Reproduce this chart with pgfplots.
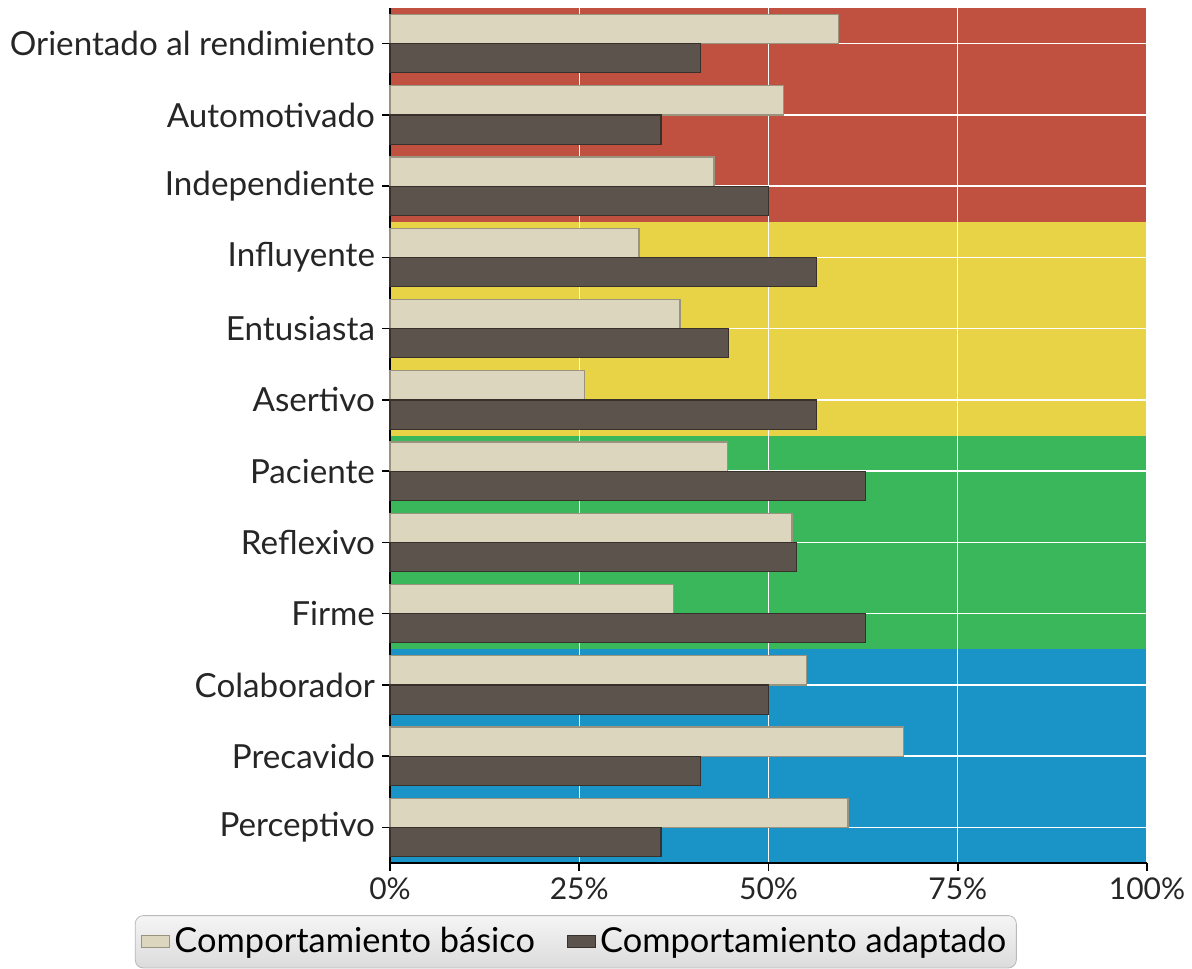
\documentclass[border=0pt]{standalone}
\usepackage{fontspec}
\setmainfont{Lato}
\usepackage{pgfplots}
\pgfplotsset{compat=1.18}
\definecolor{bandred}{HTML}{C0503F}
\definecolor{bandyellow}{HTML}{E8D347}
\definecolor{bandgreen}{HTML}{3BB75B}
\definecolor{bandblue}{HTML}{1A94C7}
\definecolor{basicfill}{HTML}{DCD6BE}
\definecolor{basicdraw}{HTML}{9A937F}
\definecolor{adaptfill}{HTML}{5C534D}
\definecolor{adaptdraw}{HTML}{37302B}
\pgfplotsset{mylegend/.style={legend image code/.code={\draw[##1, sharp corners] (0pt,-3pt) rectangle (14pt,3pt);}}}
\begin{document}
\begin{tikzpicture}
\begin{axis}[
  name=ax,
  set layers,
  width=378.5pt, height=427.5pt, scale only axis,
  xmin=0, xmax=100, ymin=-0.5, ymax=11.5,
  axis x line*=bottom, axis y line*=left,
  axis line style={black, line width=1pt, -},
  xtick={0,25,50,75,100},
  xticklabels={0\%,25\%,50\%,75\%,100\%},
  ytick={0,...,11},
  yticklabels={Perceptivo,Precavido,Colaborador,Firme,Reflexivo,Paciente,Asertivo,Entusiasta,Influyente,Independiente,Automotivado,Orientado al rendimiento},
  tick align=outside, major tick length=4pt,
  tick style={black, line width=0.8pt},
  xmajorgrids, ymajorgrids,
  grid style={white, line width=0.7pt},
  ticklabel style={font=\fontsize{16.6}{19}\selectfont, text=black!85},
  xticklabel style={font=\fontsize{15}{18}\selectfont},
  clip=false,
  legend columns=2,
  legend cell align=left,
  legend style={at={(-0.337,-0.061)}, anchor=north west,
    draw=gray!55, top color=gray!8, bottom color=gray!28,
    rounded corners=4pt, font=\fontsize{17.2}{20}\selectfont,
    inner xsep=3pt, inner ysep=4pt,
    /tikz/every even column/.append style={column sep=14pt}},
]
\begin{pgfonlayer}{axis background}
\fill[bandblue] (axis cs:0,-0.5) rectangle (axis cs:100,2.5);
\fill[bandgreen] (axis cs:0,2.5) rectangle (axis cs:100,5.5);
\fill[bandyellow] (axis cs:0,5.5) rectangle (axis cs:100,8.5);
\fill[bandred] (axis cs:0,8.5) rectangle (axis cs:100,11.5);
\end{pgfonlayer}
\addplot[xbar, bar width=0.41, bar shift=0.205, fill=basicfill, draw=basicdraw, line width=0.6pt, mylegend]
  coordinates {(60.5,0) (67.8,1) (55.0,2) (37.5,3) (53.1,4) (44.6,5) (25.7,6) (38.3,7) (32.9,8) (42.8,9) (52.0,10) (59.2,11)};
\addlegendentry{Comportamiento básico}
\addplot[xbar, bar width=0.41, bar shift=-0.205, fill=adaptfill, draw=adaptdraw, line width=0.6pt, mylegend]
  coordinates {(35.8,0) (41.0,1) (50.0,2) (62.8,3) (53.7,4) (62.8,5) (56.3,6) (44.7,7) (56.3,8) (50.0,9) (35.8,10) (41.0,11)};
\addlegendentry{Comportamiento adaptado}
\path (axis description cs:-0.5152,-0.1193) rectangle (axis description cs:1.0594,1.0094);
\end{axis}
\draw[gray!40, line width=0.6pt] ([xshift=81pt,yshift=-27pt]ax.south west) -- ([xshift=81pt,yshift=-52pt]ax.south west);
\end{tikzpicture}
\end{document}
